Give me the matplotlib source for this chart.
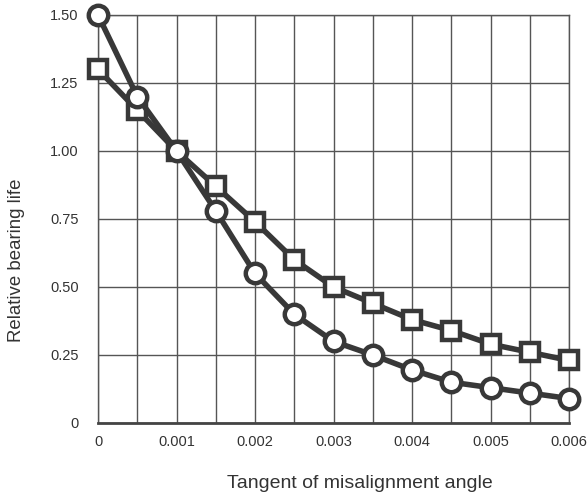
import matplotlib
matplotlib.use("Agg")
import matplotlib.pyplot as plt
import numpy as np

x = [0, 0.0005, 0.001, 0.0015, 0.002, 0.0025, 0.003, 0.0035, 0.004, 0.0045, 0.005, 0.0055, 0.006]
circle_life = [1.50, 1.20, 1.00, 0.78, 0.55, 0.40, 0.30, 0.25, 0.195, 0.15, 0.13, 0.11, 0.09]
square_life = [1.30, 1.15, 1.00, 0.87, 0.74, 0.60, 0.50, 0.44, 0.38, 0.34, 0.29, 0.26, 0.23]
x_ticks = [0, 0.001, 0.002, 0.003, 0.004, 0.005, 0.006]
x_ticklabels = ["0", "0.001", "0.002", "0.003", "0.004", "0.005", "0.006"]
y_ticks = [0, 0.25, 0.5, 0.75, 1.0, 1.25, 1.5]
y_ticklabels = ["0", "0.25", "0.50", "0.75", "1.00", "1.25", "1.50"]

plt.rcParams['font.family'] = ['Liberation Sans', 'DejaVu Sans']

fig = plt.figure(figsize=(5.88, 4.93), dpi=100)
ax = fig.add_axes([0.1667, 0.142, 0.801, 0.8276])

line_col = "#383838"
ax.plot(x, square_life, color=line_col, lw=4, marker="s", ms=13, mfc="white",
        mec=line_col, mew=3.2, clip_on=False, zorder=3)
ax.plot(x, circle_life, color=line_col, lw=4, marker="o", ms=14, mfc="white",
        mec=line_col, mew=3.2, clip_on=False, zorder=4)

ax.set_xlim(0, 0.006)
ax.set_ylim(0, 1.5)
ax.set_xticks(x_ticks)
ax.set_xticklabels(x_ticklabels)
ax.set_xticks(np.arange(0, 0.00601, 0.0005), minor=True)
ax.set_yticks(y_ticks)
ax.set_yticklabels(y_ticklabels)
ax.grid(True, which="both", color="#555555", lw=1.0)
ax.tick_params(axis="y", which="both", length=0, labelsize=10.5, colors="#333333", pad=14)
ax.tick_params(axis="x", which="both", length=0, labelsize=10.5, colors="#333333", pad=9)
for s in ["top", "right", "left"]:
    ax.spines[s].set_color("#555555")
    ax.spines[s].set_linewidth(1.0)
ax.spines["bottom"].set_color("#444444")
ax.spines["bottom"].set_linewidth(2.0)
ax.set_axisbelow(True)

fig.text(360 / 588, 10 / 493, "Tangent of misalignment angle", fontsize=14,
         color="#333333", ha="center", va="center")
fig.text(17 / 588, (493 - 260) / 493, "Relative bearing life", fontsize=13.4,
         color="#333333", ha="center", va="center", rotation=90)

fig.savefig("out.png", dpi=100)
